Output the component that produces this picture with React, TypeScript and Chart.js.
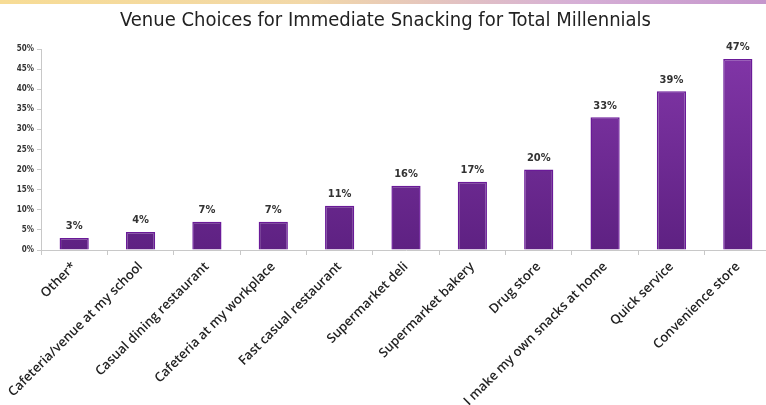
import React, { useEffect, useRef } from "react";
import { Chart, registerables } from "chart.js";

Chart.register(...registerables);

const categories = [
  "Other*",
  "Cafeteria/venue at my school",
  "Casual dining restaurant",
  "Cafeteria at my workplace",
  "Fast casual restaurant",
  "Supermarket deli",
  "Supermarket bakery",
  "Drug store",
  "I make my own snacks at home",
  "Quick service",
  "Convenience store",
];
const values = [3, 4.5, 7, 7, 11, 16, 17, 20, 33, 39.5, 47.5];
const valueLabels = ["3%", "4%", "7%", "7%", "11%", "16%", "17%", "20%", "33%", "39%", "47%"];
const yTicks = [0, 5, 10, 15, 20, 25, 30, 35, 40, 45, 50];
const title = "Venue Choices for Immediate Snacking for Total Millennials";

const labelPlugin = {
  id: "valueLabels",
  afterDatasetsDraw(chart: any) {
    const ctx = chart.ctx;
    const meta = chart.getDatasetMeta(0);
    ctx.save();
    ctx.font = "bold 11px 'DejaVu Sans Condensed', 'DejaVu Sans'";
    ctx.fillStyle = "#333333";
    ctx.textAlign = "center";
    ctx.textBaseline = "bottom";
    meta.data.forEach((bar: any, i: number) => {
      ctx.fillText(valueLabels[i], bar.x, bar.y - 6);
    });
    ctx.restore();
  },
};

export default function App() {
  const ref = useRef<HTMLCanvasElement>(null);
  useEffect(() => {
    document.body.style.margin = "0";
    const canvas = ref.current!;
    const chart = new Chart(canvas, {
      type: "bar",
      data: {
        labels: categories,
        datasets: [
          {
            data: values,
            backgroundColor: (c: any) => {
              const area = c.chart.chartArea;
              if (!area) return "#6f2a94";
              const g = c.chart.ctx.createLinearGradient(0, area.top, 0, area.bottom);
              g.addColorStop(0, "#8236a8");
              g.addColorStop(1, "#5e2182");
              return g;
            },
            borderColor: "#6a1a98",
            borderWidth: 1.5,
            barPercentage: 0.44,
            categoryPercentage: 1,
          },
        ],
      },
      options: {
        animation: false,
        responsive: false,
        maintainAspectRatio: false,
        layout: { padding: { left: 0, right: 5, top: 0, bottom: 0 } },
        plugins: {
          legend: { display: false },
          tooltip: { enabled: false },
          title: {
            display: true,
            text: title,
            color: "#222222",
            font: { family: "'DejaVu Sans Condensed', 'DejaVu Sans'", size: 20, weight: "normal" },
            padding: { top: 9, bottom: 16 },
          },
        },
        scales: {
          x: {
            grid: {
              display: true,
              drawOnChartArea: false,
              drawTicks: true,
              tickLength: 5,
              color: "#c8c8c8",
              offset: true,
            },
            border: { display: true, color: "#c8c8c8" },
            ticks: {
              maxRotation: 45,
              minRotation: 45,
              autoSkip: false,
              color: "#222222",
              font: { family: "'Open Sans'", size: 13, weight: "600" },
              padding: 4,
            },
            afterFit: (s: any) => {
              s.height = 155;
            },
          },
          y: {
            min: 0,
            max: 50,
            afterBuildTicks: (s: any) => {
              s.ticks = yTicks.map((v) => ({ value: v }));
            },
            grid: {
              display: true,
              drawOnChartArea: false,
              tickLength: 4,
              color: "#c8c8c8",
            },
            border: { display: true, color: "#c8c8c8" },
            ticks: {
              color: "#333333",
              font: { family: "'DejaVu Sans Condensed', 'DejaVu Sans'", size: 8, weight: "bold" },
              padding: 3,
              callback: (v: any) => v + "%",
            },
            afterFit: (s: any) => {
              s.width = 41;
            },
          },
        },
      },
      plugins: [labelPlugin],
    });
    return () => chart.destroy();
  }, []);
  return (
    <div style={{ position: "fixed", left: 0, top: 0, width: 766, height: 405, overflow: "hidden", background: "#fff" }}>
      <div
        style={{
          position: "absolute",
          left: 0,
          top: 0,
          width: 766,
          height: 4,
          background: "linear-gradient(to right, #f7dc95, #f2d8a8 40%, #d6b0d6 75%, #c596cc)",
        }}
      />
      <canvas ref={ref} width={776} height={405} style={{ display: "block", width: 776, height: 405 }} />
    </div>
  );
}
